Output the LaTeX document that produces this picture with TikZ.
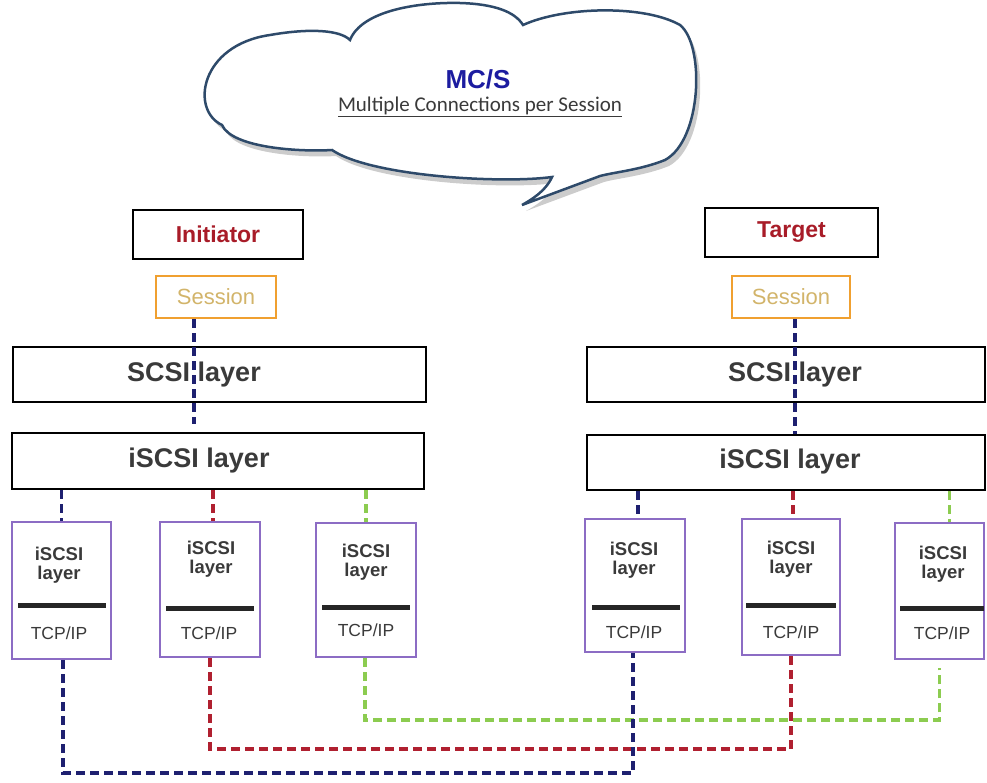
\documentclass[tikz,border=0pt]{standalone}
\usepackage{fontspec}
\setmainfont{Liberation Sans}
\newfontfamily\calib{Carlito}
\usetikzlibrary{shadows,calc}
\definecolor{navyc}{HTML}{1E2070}
\definecolor{redc}{HTML}{B02030}
\definecolor{greenc}{HTML}{8CCC50}
\definecolor{purplec}{HTML}{8C6CC4}
\definecolor{orangec}{HTML}{F0A030}
\definecolor{sestext}{HTML}{D2B46A}
\definecolor{darkred}{HTML}{A81C28}
\definecolor{mcblue}{HTML}{1C1CA0}
\definecolor{txt}{HTML}{3A3A3A}
\definecolor{cloudc}{HTML}{2E4A6A}
\begin{document}
\begin{tikzpicture}[x=1pt,y=-1pt,
  blackbox/.style={draw=black,line width=2.8pt,inner sep=0pt},
  sesbox/.style={draw=orangec,line width=2.4pt,inner sep=0pt,minimum width=120pt,minimum height=42pt,font=\fontsize{22}{24}\selectfont,text=sestext},
  smallbox/.style={draw=purplec,line width=2.4pt,inner sep=0pt},
  bigtxt/.style={font=\fontsize{27}{30}\selectfont\bfseries,text=txt},
  smalltxt/.style={font=\fontsize{18.5}{21}\selectfont\bfseries,text=txt,align=center},
  tcptxt/.style={font=\fontsize{17.5}{20}\selectfont,text=txt},
  conn/.style={line width=3.6pt,dash pattern=on 9pt off 5pt},
  bar/.style={line width=5pt,black!85}
]
\useasboundingbox (0,0) rectangle (987,782);

% cloud
\path[draw=cloudc,line width=2.5pt,fill=white,drop shadow={shadow xshift=4pt,shadow yshift=-6pt,opacity=0.4}]
  (222,125) .. controls (190,110) and (200,45) .. (270,35)
  .. controls (310,28) and (340,30) .. (350,40)
  .. controls (362,10) and (420,2) .. (460,3)
  .. controls (495,4) and (515,12) .. (523,25)
  .. controls (565,6) and (645,5) .. (680,25)
  .. controls (705,45) and (702,140) .. (665,160)
  .. controls (640,170) and (615,172) .. (600,176)
  -- (522,205)
  .. controls (540,195) and (548,186) .. (552,177)
  .. controls (500,184) and (370,176) .. (332,150)
  .. controls (300,152) and (232,148) .. (222,125) -- cycle;
\node[font=\fontsize{26}{28}\selectfont\bfseries,text=mcblue] (mcs) at (478,79) {MC/S};
\node[font=\calib\fontsize{21}{24}\selectfont,text=txt] (mcsub) at (480,107) {\underline{Multiple Connections per Session}};

% initiator side
\node[blackbox,minimum width=170pt,minimum height=49pt,font=\fontsize{23}{26}\selectfont\bfseries,text=darkred] (init) at (218,234.5) {Initiator};
\node[sesbox] (sesL) at (216,297) {Session};
\node[blackbox,minimum width=413pt,minimum height=55pt] (scsiL) at (219.5,374.5) {};
\node[bigtxt] (scsiLt) at (194,375) {SCSI layer};
\node[blackbox,minimum width=412pt,minimum height=56pt] (isL) at (218,461) {};
\node[bigtxt] (isLt) at (199,461) {iSCSI layer};

% target side
\node[blackbox,minimum width=173pt,minimum height=49pt,font=\fontsize{23}{26}\selectfont\bfseries,text=darkred] (targ) at (791.5,232.5) {Target};
\node[sesbox,minimum width=118pt] (sesR) at (791,297) {Session};
\node[blackbox,minimum width=398pt,minimum height=55pt] (scsiR) at (786,374.5) {};
\node[bigtxt] (scsiRt) at (795,375) {SCSI layer};
\node[blackbox,minimum width=398pt,minimum height=55pt] (isR) at (786,462.5) {};
\node[bigtxt] (isRt) at (790,462) {iSCSI layer};

% session lines
\draw[conn,navyc] ([xshift=-22pt]sesL.south) -- ([xshift=-22pt,yshift=8pt]sesL.south |- isL.north);
\draw[conn,navyc] ([xshift=4pt]sesR.south) -- ([xshift=4pt]sesR.south |- isR.north);

% small boxes
\node[smallbox,minimum width=99pt,minimum height=137pt] (b1) at (61.5,590.5) {};
\node[smallbox,minimum width=100pt,minimum height=135pt] (b2) at (210,589.5) {};
\node[smallbox,minimum width=100pt,minimum height=134pt] (b3) at (366,590) {};
\node[smallbox,minimum width=100pt,minimum height=133pt] (b4) at (635,585.5) {};
\node[smallbox,minimum width=98pt,minimum height=136pt] (b5) at (791,587) {};
\node[smallbox,minimum width=89pt,minimum height=136pt] (b6) at (939.5,591) {};

\node[smalltxt] (t1) at (59,565) {iSCSI\\[-2pt]layer};
\node[smalltxt] (t2) at (211,559) {iSCSI\\[-2pt]layer};
\node[smalltxt] (t3) at (366,562) {iSCSI\\[-2pt]layer};
\node[smalltxt] (t4) at (634,560) {iSCSI\\[-2pt]layer};
\node[smalltxt] (t5) at (791,559) {iSCSI\\[-2pt]layer};
\node[smalltxt] (t6) at (943,564) {iSCSI\\[-2pt]layer};

\node[tcptxt] (p1) at (59,633) {TCP/IP};
\node[tcptxt] (p2) at (209,633) {TCP/IP};
\node[tcptxt] (p3) at (366,630) {TCP/IP};
\node[tcptxt] (p4) at (634,632) {TCP/IP};
\node[tcptxt] (p5) at (791,632) {TCP/IP};
\node[tcptxt] (p6) at (942,633) {TCP/IP};

\draw[bar] (18,605) -- (106,605);
\draw[bar] (166,608) -- (254,608);
\draw[bar] (322,607) -- (410,607);
\draw[bar] (592,607) -- (680,607);
\draw[bar] (746,605) -- (836,605);
\draw[bar] (900,608) -- (984,608);

% top connectors
\draw[conn,navyc] (b1.north |- isL.south) -- (b1.north);
\draw[conn,redc] ([xshift=3pt]b2.north |- isL.south) -- ([xshift=3pt]b2.north);
\draw[conn,greenc] (b3.north |- isL.south) -- (b3.north);
\draw[conn,navyc] ([xshift=3pt]b4.north |- isR.south) -- ([xshift=3pt]b4.north);
\draw[conn,redc] ([xshift=2pt]b5.north |- isR.south) -- ([xshift=2pt]b5.north);
\draw[conn,greenc] ([xshift=10pt]b6.north |- isR.south) -- ([xshift=10pt]b6.north);

% bottom connectors
\coordinate (yb) at (0,773);
\coordinate (yr) at (0,749);
\coordinate (yg) at (0,720);
\draw[conn,greenc] ([xshift=-1pt]b3.south) -- ([xshift=-1pt]b3.south |- yg) -| ([yshift=-8pt]b6.south);
\draw[conn,redc] (b2.south) -- (b2.south |- yr) -| (b5.south);
\draw[conn,navyc] ([xshift=1.5pt]b1.south) -- ([xshift=1.5pt]b1.south |- yb) -| ([xshift=-2pt]b4.south);
\end{tikzpicture}
\end{document}
